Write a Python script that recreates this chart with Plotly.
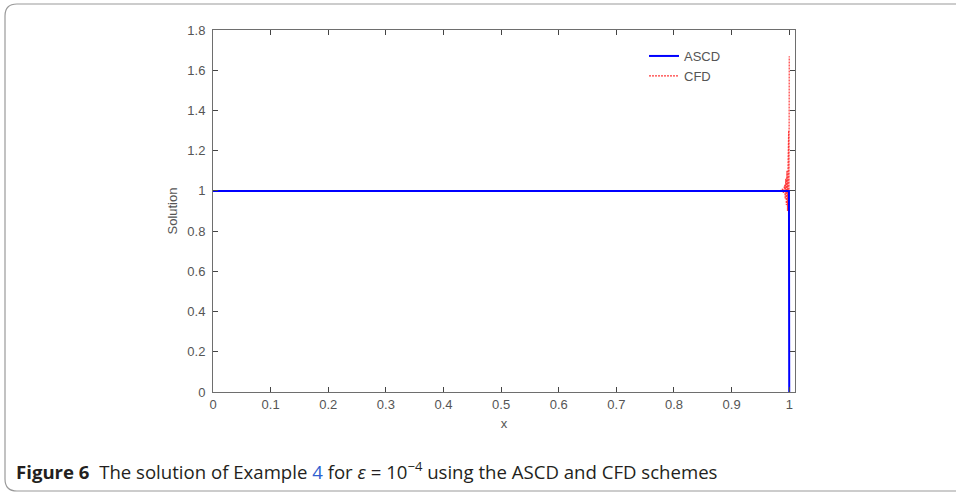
import plotly.graph_objects as go

# Solutions near the boundary layer at x = 1 (epsilon = 1e-4)
ascd_x = [0.0, 0.25, 0.5, 0.75, 0.99, 0.9995, 1.0]
ascd_y = [1.0, 1.0, 1.0, 1.0, 1.0, 1.0, 0.0]

cfd_x = [0.0, 0.5, 0.985, 0.988, 0.990, 0.992, 0.993, 0.994, 0.995, 0.996,
         0.997, 0.998, 0.9985, 0.999, 0.9995, 1.0]
cfd_y = [1.0, 1.0, 1.0, 1.01, 0.99, 1.03, 0.96, 1.06, 0.93, 1.10,
         0.90, 1.15, 0.85, 1.30, 0.78, 1.67]

x_ticks = [0, 0.1, 0.2, 0.3, 0.4, 0.5, 0.6, 0.7, 0.8, 0.9, 1.0]
x_labels = ["0", "0.1", "0.2", "0.3", "0.4", "0.5", "0.6", "0.7", "0.8", "0.9", "1"]
y_ticks = [0, 0.2, 0.4, 0.6, 0.8, 1.0, 1.2, 1.4, 1.6, 1.8]
y_labels = ["0", "0.2", "0.4", "0.6", "0.8", "1", "1.2", "1.4", "1.6", "1.8"]

W, H = 956, 495
L, R, T, B = 213, 161, 30, 103
PW, PH = W - L - R, H - T - B


def px(x):
    return (x - L) / PW


def py(y):
    return (H - B - y) / PH


axis_grey = "#6e6e6e"
text_grey = "#555555"
tick_font = dict(family="Liberation Sans, Arial", size=13, color=text_grey)

fig = go.Figure()
# CFD drawn underneath so the ASCD line stays on top along u = 1
fig.add_trace(go.Scatter(x=cfd_x, y=cfd_y, mode="lines", name="CFD", legendrank=2,
                         line=dict(color="#ff3b3b", width=1.2, dash="2px,1px")))
fig.add_trace(go.Scatter(x=ascd_x, y=ascd_y, mode="lines", name="ASCD", legendrank=1,
                         line=dict(color="#0000ff", width=2)))

common_axis = dict(showline=True, mirror="allticks", linecolor=axis_grey, linewidth=1,
                   ticks="inside", ticklen=5, tickcolor="#444444", tickwidth=1,
                   showgrid=False, zeroline=False, tickfont=tick_font)

fig.update_xaxes(range=[0, 1.01], tickvals=x_ticks, ticktext=x_labels,
                 title=dict(text="x", font=tick_font, standoff=8),
                 **common_axis)
fig.update_yaxes(range=[0, 1.8], tickvals=y_ticks, ticktext=y_labels,
                 ticklabelstandoff=4,
                 title=dict(text="Solution", font=tick_font, standoff=6),
                 **common_axis)

# rounded frame around the figure panel
x0, x1, y0, y1, r = 5, 1010, 4, 491, 12
path = (f"M {px(x0 + r)} {py(y0)} L {px(x1)} {py(y0)} L {px(x1)} {py(y1)} "
        f"L {px(x0 + r)} {py(y1)} Q {px(x0)} {py(y1)} {px(x0)} {py(y1 - r)} "
        f"L {px(x0)} {py(y0 + r)} Q {px(x0)} {py(y0)} {px(x0 + r)} {py(y0)} Z")
fig.add_shape(type="path", path=path, xref="paper", yref="paper",
              line=dict(color="#9a9a9a", width=1.2), layer="below")

caption = ("<b>Figure 6</b>  The solution of Example "
           "<span style='color:#2f5fd0'>4</span> for <i>ε</i> = 10<sup>−4</sup> "
           "using the ASCD and CFD schemes")
fig.add_annotation(text=caption, xref="paper", yref="paper", x=px(14), y=py(470),
                   xanchor="left", yanchor="middle", showarrow=False,
                   font=dict(family="Open Sans", size=18.6, color="#231f20"))

fig.update_layout(
    width=W, height=H,
    margin=dict(l=L, r=R, t=T, b=B),
    paper_bgcolor="white", plot_bgcolor="white",
    showlegend=True,
    legend=dict(x=px(644), y=py(41), xanchor="left", yanchor="top",
                bgcolor="rgba(0,0,0,0)", borderwidth=0, tracegroupgap=0,
                font=tick_font),
)

fig.write_html("out.html")
